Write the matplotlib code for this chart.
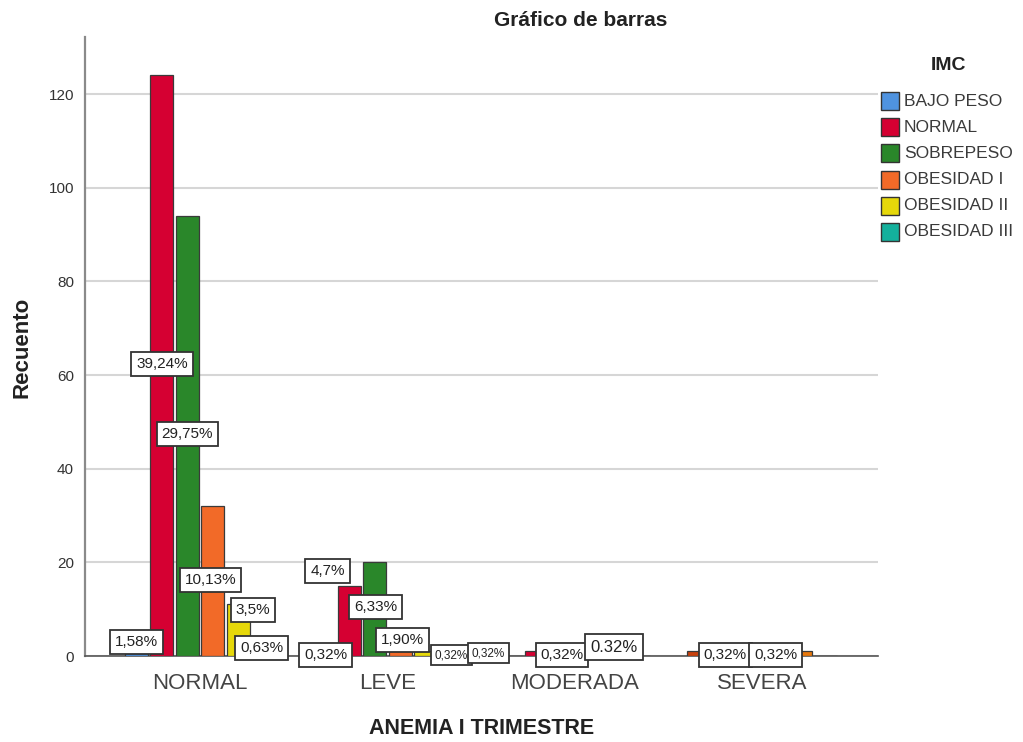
import numpy as np
import matplotlib
matplotlib.use('Agg')
import matplotlib.pyplot as plt
from matplotlib.patches import Rectangle

plt.rcParams['font.family'] = ['Liberation Sans', 'DejaVu Sans']

categories = ['NORMAL', 'LEVE', 'MODERADA', 'SEVERA']
series = ['BAJO PESO', 'NORMAL', 'SOBREPESO', 'OBESIDAD I', 'OBESIDAD II', 'OBESIDAD III']
colors = ['#4f93e0', '#d50032', '#2a872a', '#f26a28', '#e6d80a', '#14b09c']

bajo_peso = [5, 1, 0, 1]
normal = [124, 15, 1, 0]
sobrepeso = [94, 20, 1, 0]
obesidad_1 = [32, 6, 0, 0]
obesidad_2 = [11, 1, 0, 1]
obesidad_3 = [2, 1, 0, 0]
counts = [bajo_peso, normal, sobrepeso, obesidad_1, obesidad_2, obesidad_3]

# a couple of bars were recoloured by hand in the original chart
color_override = {(3, 0): '#c8400c', (3, 4): '#e8780c'}

# (category, series, text, x shift in bar slots, y centre, font size)
labels = [
    (0, 0, '1,58%', 0.0, 3.0, 11),
    (0, 1, '39,24%', 0.0, 62.3, 11),
    (0, 2, '29,75%', 0.0, 47.4, 11),
    (0, 3, '10,13%', -0.1, 16.2, 11),
    (0, 4, '3,5%', 0.58, 9.8, 11),
    (0, 5, '0,63%', -0.07, 1.7, 11),
    (1, 0, '0,32%', 0.07, 0.2, 11),
    (1, 1, '4,7%', -0.85, 18.1, 11),
    (1, 2, '6,33%', 0.03, 10.5, 11),
    (1, 3, '1,90%', 0.09, 3.4, 11),
    (1, 4, '0,32%', 1.01, 0.2, 8.5),
    (1, 5, '0,32%', 1.46, 0.6, 8.5),
    (2, 1, '0,32%', 1.0, 0.2, 11),
    (2, 2, '0.32%', 2.03, 1.9, 12),
    (3, 0, '0,32%', 1.05, 0.2, 11),
    (3, 4, '0,32%', -0.97, 0.2, 11),
]

W, H = 1023, 742
fig = plt.figure(figsize=(W / 100, H / 100), dpi=100)
ax = fig.add_axes([85 / W, 1 - 656 / H, (878 - 85) / W, (656 - 37) / H])

x = np.arange(len(categories))
pitch = 0.136
width = 0.123
offsets = (np.arange(len(series)) - (len(series) - 1) / 2) * pitch

for s, vals in enumerate(counts):
    cols = [color_override.get((c, s), colors[s]) for c in range(len(categories))]
    ax.bar(x + offsets[s], vals, width, color=cols, edgecolor='#3a3a3a',
           linewidth=0.9, zorder=3)

for c, s, txt, dx, yv, fs in labels:
    ax.text(x[c] + offsets[s] + dx * pitch, yv, txt, ha='center', va='center',
            fontsize=fs, color='#222222', zorder=5,
            bbox=dict(boxstyle='square,pad=0.32', fc='white', ec='#333333', lw=1.3))

ax.set_xlim(-0.614, 3.619)
ax.set_ylim(0, 132.2)
ax.set_yticks(np.arange(0, 121, 20))
ax.yaxis.grid(True, color='#d6d6d6', linewidth=1.5, zorder=0)
ax.set_axisbelow(True)
ax.set_xticks(x)
ax.set_xticklabels(categories, fontsize=16, color='#444444')
ax.tick_params(axis='x', length=0, pad=12)
ax.tick_params(axis='y', length=0, pad=8, labelsize=11, labelcolor='#333333')
for sp in ['top', 'right']:
    ax.spines[sp].set_visible(False)
ax.spines['left'].set_color('#8a8a8a')
ax.spines['left'].set_linewidth(1.6)
ax.spines['bottom'].set_color('#555555')
ax.spines['bottom'].set_linewidth(1.2)

fig.text(581 / W, 1 - 21 / H, 'Gráfico de barras', ha='center', va='center',
         fontsize=15, fontweight='bold', color='#222222')
fig.text(22 / W, 1 - 347 / H, 'Recuento', rotation=90, ha='center', va='center',
         fontsize=16, fontweight='bold', color='#222222')
fig.text(482 / W, 1 - 729 / H, 'ANEMIA I TRIMESTRE', ha='center', va='center',
         fontsize=15.5, fontweight='bold', color='#222222')

# legend
fig.text(949 / W, 1 - 65 / H, 'IMC', ha='center', va='center',
         fontsize=14, fontweight='bold', color='#222222')
for i, (name, col) in enumerate(zip(series, colors)):
    yc = 101 + 26.2 * i
    fig.add_artist(Rectangle((881 / W, 1 - (yc + 9) / H), 18 / W, 18 / H,
                             transform=fig.transFigure, fc=col, ec='#333333', lw=1))
    fig.text(904 / W, 1 - yc / H, name, ha='left', va='center',
             fontsize=12.5, color='#3a3a3a')

fig.savefig('out.png', dpi=100)
